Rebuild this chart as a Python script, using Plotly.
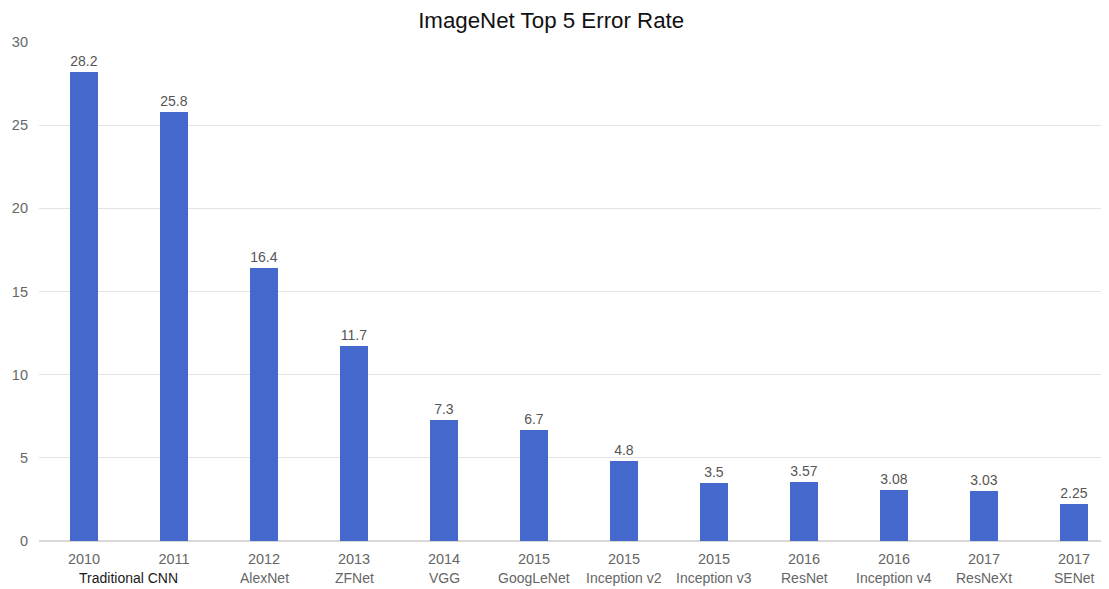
import plotly.graph_objects as go

years = ["2010", "2011", "2012", "2013", "2014", "2015", "2015", "2015", "2016", "2016", "2017", "2017"]
model_names = ["Traditional CNN", "AlexNet", "ZFNet", "VGG", "GoogLeNet", "Inception v2",
               "Inception v3", "ResNet", "Inception v4", "ResNeXt", "SENet"]
# category position under which each model name sits ("Traditional CNN" spans 2010-2011)
model_positions = [0.49, 2, 3, 4, 5, 6, 7, 8, 9, 10, 11]
values = [28.2, 25.8, 16.4, 11.7, 7.3, 6.7, 4.8, 3.5, 3.57, 3.08, 3.03, 2.25]
value_labels = ["28.2", "25.8", "16.4", "11.7", "7.3", "6.7", "4.8", "3.5", "3.57", "3.08", "3.03", "2.25"]

x = list(range(len(values)))

fig = go.Figure(go.Bar(
    x=x, y=values, width=0.31,
    marker=dict(color="#4468cc", line=dict(width=0)),
    text=value_labels, textposition="outside",
    textfont=dict(size=14, color="#555555"),
    cliponaxis=False,
))

annotations = []
for i, (pos, name) in enumerate(zip(model_positions, model_names)):
    annotations.append(dict(
        x=pos, xref="x", y=-0.075, yref="paper", yanchor="middle",
        text=name, showarrow=False,
        font=dict(size=14, color="#1a1a1a" if i == 0 else "#666666"),
    ))

fig.update_layout(
    width=1109, height=589,
    margin=dict(l=39, r=8, t=42, b=48),
    paper_bgcolor="white", plot_bgcolor="white",
    font=dict(family="Liberation Sans, Arial, sans-serif"),
    title=dict(text="ImageNet Top 5 Error Rate", x=0.497, xanchor="center",
               y=0.965, yanchor="middle",
               font=dict(size=22.3, color="#111111")),
    showlegend=False,
    bargap=0,
    annotations=annotations,
)
fig.update_xaxes(
    tickmode="array", tickvals=x, ticktext=years,
    range=[-0.5, 11.3], showgrid=False, zeroline=False, showline=False,
    tickfont=dict(size=14.5, color="#666666"), ticks="", ticklabelstandoff=7,
)
fig.update_yaxes(
    range=[0, 30], dtick=5, showgrid=True, gridcolor="#e4e4e4", gridwidth=1,
    zeroline=True, zerolinecolor="#d8d8d8", showline=False,
    tickfont=dict(size=14.5, color="#666666"), ticks="", ticklabelstandoff=10,
)

fig.write_html("out.html")
